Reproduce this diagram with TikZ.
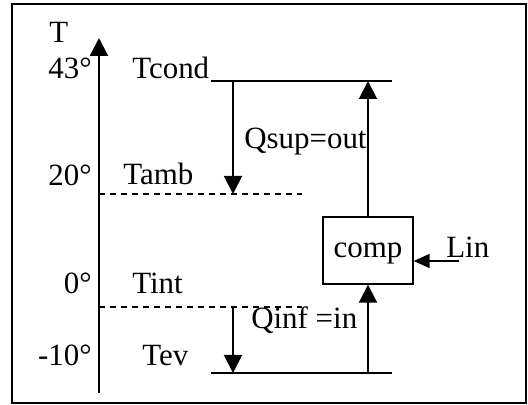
\documentclass[tikz,border=0pt]{standalone}
\usepackage{fontspec}
\setmainfont{Liberation Serif}
\usetikzlibrary{arrows.meta,positioning}

\begin{document}
\begin{tikzpicture}[
  x=0.025cm, y=-0.025cm,
  font=\fontsize{22}{25}\selectfont,
  rotulo/.style={inner sep=0pt,anchor=base west},
  grado/.style={inner sep=0pt,anchor=base east},
  nivel/.style={line width=1.2pt},
  ambiente/.style={line width=0.8pt,dash pattern=on 0.15cm off 0.125cm},
  flecha/.style={-{Triangle[length=0.45cm,width=0.45cm]},line width=1.4pt},
  caja/.style={draw,line width=1pt,minimum width=2.25cm,minimum height=1.675cm,
               inner sep=0pt,text depth=0pt}
]
  \useasboundingbox (0,0) rectangle (528,405);
  \draw[line width=1.4pt] (12,4) rectangle (526,403);

  % eje de temperatura
  \coordinate (ejeabajo) at (99,393);
  \coordinate (ejearriba) at (99,38);
  \draw[flecha,line width=1.6pt] (ejeabajo) -- (ejearriba);
  \node[rotulo] (T) at (49,43) {T};
  \node[grado] (g43) at (92,79) {43°};
  \node[grado] (g20) at (92,186) {20°};
  \node[grado] (g0) at (92,294) {0°};
  \node[grado] (g10) at (92,366) {-10°};

  % niveles
  \coordinate (tcondI) at (211,81);
  \coordinate (tcondD) at (392,81);
  \coordinate (tevI) at (211,373);
  \coordinate (tevD) at (392,373);
  \coordinate (tambI) at (99,194);
  \coordinate (tambD) at (302,194);
  \coordinate (tintI) at (99,307);
  \coordinate (tintD) at (302,307);
  \draw[nivel] (tcondI) -- (tcondD);
  \draw[nivel] (tevI) -- (tevD);
  \draw[ambiente] (tambI) -- (tambD);
  \draw[ambiente] (tintI) -- (tintD);
  \node[rotulo] (tcond) at (132,79) {Tcond};
  \node[rotulo] (tamb) at (123,185) {Tamb};
  \node[rotulo] (tint) at (132,294) {Tint};
  \node[rotulo] (tev) at (142,366) {Tev};

  % calores
  \coordinate (qsupA) at (233,81);
  \coordinate (qsupB) at (233,194);
  \coordinate (qinfA) at (233,307);
  \coordinate (qinfB) at (233,373);
  \draw[flecha] (qsupA) -- (qsupB);
  \draw[flecha] (qinfA) -- (qinfB);
  \node[rotulo] (qsup) at (244,149) {Qsup=out};
  \node[rotulo] (qinf) at (251,329) {Qinf =in};

  % compresor
  \node[caja] (comp) at (368,250.5) {comp};
  \coordinate (evap) at (368,373);
  \coordinate (cond) at (368,81);
  \draw[flecha] (evap) -- (comp.south);
  \draw[flecha] (comp.north) -- (cond);
  \coordinate (lin) at (459,261);
  \draw[flecha,-{Triangle[length=0.4cm,width=0.35cm]}] (lin) -- (lin -| comp.east);
  \node[rotulo] (Lin) at (446,258) {Lin};
\end{tikzpicture}
\end{document}
